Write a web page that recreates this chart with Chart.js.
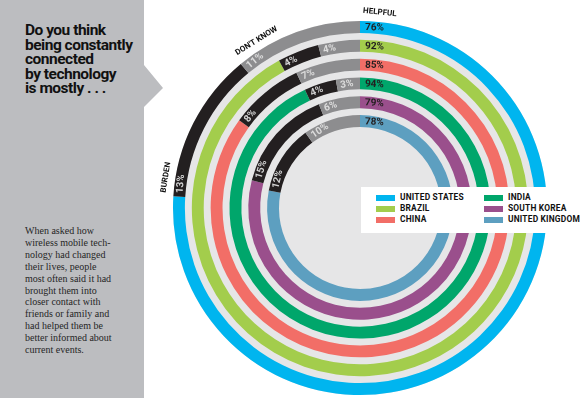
<!DOCTYPE html>
<html>
<head>
<meta charset="utf-8">
<script src="https://cdn.jsdelivr.net/npm/chart.js@4.4.1/dist/chart.umd.min.js"></script>
<style>
  html, body { margin: 0; padding: 0; background: #fff; }
  body { width: 580px; height: 398px; position: relative; overflow: hidden; }
  #panel {
    position: absolute; left: 0; top: 0; width: 163px; height: 398px;
    background: #bcbdc0;
    clip-path: polygon(0 0, 144px 0, 144px 65px, 163px 88px, 144px 107px, 144px 100%, 0 100%);
  }
  #panel h1 {
    position: absolute; left: 25px; top: 23px; margin: 0;
    font: bold 15.5px/14.6px 'Liberation Sans Narrow', 'Arial Narrow', Roboto, sans-serif;
    color: #111; letter-spacing: -0.5px;
  }
  #panel p {
    position: absolute; left: 25px; top: 225px; margin: 0;
    font: 10px/11.9px 'Liberation Serif', 'DejaVu Serif', serif;
    color: #262626;
  }
  #rings { position: absolute; left: 150px; top: 0; }
  #legend {
    position: absolute; left: 361px; top: 187px; width: 219px; height: 46px;
    background: #fff;
  }
  #legend div {
    position: absolute; height: 11px;
    font: bold 8.4px/11px Roboto, sans-serif; color: #111; letter-spacing: 0.2px;
    white-space: nowrap;
  }
  #legend span {
    display: inline-block; width: 19px; height: 6px; margin-right: 5px; vertical-align: -0.5px;
  }
</style>
</head>
<body>
<div id="panel">
  <h1>Do you think<br>being constantly<br>connected<br>by technology<br>is mostly . . .</h1>
  <p>When asked how<br>wireless mobile tech-<br>nology had changed<br>their lives, people<br>most often said it had<br>brought them into<br>closer contact with<br>friends or family and<br>had helped them be<br>better informed about<br>current events.</p>
</div>
<canvas id="rings" width="430" height="398"></canvas>
<div id="legend"></div>
<script>
// outer ring first
const countries = ["UNITED STATES", "BRAZIL", "CHINA", "INDIA", "SOUTH KOREA", "UNITED KINGDOM"];
const helpful = [76, 92, 85, 94, 79, 78];
const burden = [13, 4, 8, 4, 15, 12];
const dontKnow = [11, 4, 7, 3, 6, 10];
const answers = ["HELPFUL", "BURDEN", "DON'T KNOW"];

const countryColors = ["#00b5ef", "#a3cd4c", "#f26e67", "#00a66b", "#9a4f8c", "#5d9fc0"];
const BURDEN_C = "#231f20";
const DK_C = "#8d8d8f";
const DISC = "#e6e6e7";
const LABEL_FONT = "bold 10px Roboto, sans-serif";

// legend (two columns of three)
const legend = document.getElementById("legend");
countries.forEach((name, i) => {
  const row = document.createElement("div");
  row.style.left = (i < 3 ? 15 : 123) + "px";
  row.style.top = (5 + (i % 3) * 11) + "px";
  row.innerHTML = `<span style="background:${countryColors[i]}"></span>${name}`;
  legend.appendChild(row);
});

// rings, with a thin transparent spacer ring between each pair
const datasets = [];
countries.forEach((name, i) => {
  datasets.push({
    label: name,
    data: [helpful[i], burden[i], dontKnow[i]],
    backgroundColor: [countryColors[i], BURDEN_C, DK_C],
    borderWidth: 0,
    weight: 12,
  });
  if (i < countries.length - 1) {
    datasets.push({ label: "", spacer: true, data: [1], backgroundColor: "rgba(0,0,0,0)", borderWidth: 0, weight: 7 });
  }
});

// light grey disc behind the rings
const discBackdrop = {
  id: "discBackdrop",
  beforeDatasetsDraw(chart) {
    const a = chart.getDatasetMeta(0).data[0];
    const ctx = chart.ctx;
    ctx.save();
    ctx.fillStyle = DISC;
    ctx.beginPath();
    ctx.arc(a.x, a.y, a.outerRadius, 0, Math.PI * 2);
    ctx.fill();
    ctx.restore();
  },
};

// percent labels at the start of each segment, plus the answer names round the outer ring
const ringLabels = {
  id: "ringLabels",
  afterDatasetsDraw(chart) {
    const ctx = chart.ctx;
    ctx.save();
    ctx.textBaseline = "middle";
    ctx.textAlign = "left";
    chart.data.datasets.forEach((ds, di) => {
      if (ds.spacer) return;
      chart.getDatasetMeta(di).data.forEach((arc, j) => {
        const r = (arc.innerRadius + arc.outerRadius) / 2;
        const ang = arc.startAngle + (j === 0 ? 5 : 3.5) / r;
        ctx.save();
        ctx.translate(arc.x + r * Math.cos(ang), arc.y + r * Math.sin(ang));
        ctx.rotate(ang + Math.PI / 2);
        ctx.font = LABEL_FONT;
        ctx.fillStyle = j === 0 ? "#231f20" : j === 1 ? "#d2d2d2" : "#dcdcdc";
        ctx.fillText(ds.data[j] + "%", 0, 0.5);
        ctx.restore();
      });
    });
    // answer names outside the outer ring
    ctx.font = "bold 8px Roboto, sans-serif";
    ctx.fillStyle = "#111";
    ctx.textAlign = "center";
    chart.getDatasetMeta(0).data.forEach((arc, j) => {
      const r = arc.outerRadius + 9.5;
      const w = ctx.measureText(answers[j]).width;
      const ang = arc.startAngle + (3 + w / 2) / r;
      ctx.save();
      ctx.translate(arc.x + r * Math.cos(ang), arc.y + r * Math.sin(ang));
      ctx.rotate(ang + Math.PI / 2);
      ctx.fillText(answers[j], 0, 0);
      ctx.restore();
    });
    ctx.restore();
  },
};

new Chart(document.getElementById("rings"), {
  type: "doughnut",
  data: { labels: answers, datasets },
  options: {
    responsive: false,
    animation: false,
    events: [],
    cutout: 81,
    layout: { padding: { left: 23, right: 33, top: 21, bottom: 3 } },
    plugins: { legend: { display: false }, tooltip: { enabled: false } },
  },
  plugins: [discBackdrop, ringLabels],
});
</script>
</body>
</html>
